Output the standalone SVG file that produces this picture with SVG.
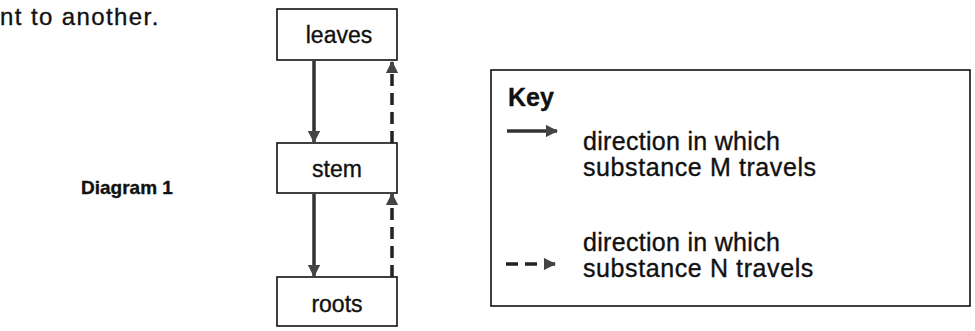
<svg xmlns="http://www.w3.org/2000/svg" width="975" height="331" viewBox="0 0 975 331">
<style>
.t{font-family:"Liberation Sans",Arial,sans-serif;font-size:23px;fill:#111;stroke:#111;stroke-width:0.35}
.k{font-size:25px}
.b{font-weight:bold}
.box{fill:#fff;stroke:#111;stroke-width:1.6}
.sol{stroke:#333;stroke-width:3.5;fill:none}
.dsh{stroke:#222;stroke-width:3.5;fill:none;stroke-dasharray:12 7}
</style>
<defs>
<marker id="ah" viewBox="0 0 10 10" refX="9" refY="5" markerWidth="3.5" markerHeight="3.5" markerUnits="strokeWidth" orient="auto">
<path d="M0,0 L10,5 L0,10 z" fill="#444"/>
</marker>
</defs>
<rect width="975" height="331" fill="#fff"/>
<text class="t" x="0" y="25" style="font-size:24px;letter-spacing:1.4px">nt to another.</text>
<text class="t b" x="81" y="194" style="font-size:19px">Diagram 1</text>
<g id="leaves"><rect class="box" x="277" y="9" width="120" height="51"/><text class="t" x="339" y="43" text-anchor="middle">leaves</text></g>
<g id="stem"><rect class="box" x="277" y="143" width="120" height="50"/><text class="t" x="337" y="177" text-anchor="middle">stem</text></g>
<g id="roots"><rect class="box" x="277" y="277" width="120" height="49"/><text class="t" x="337" y="312" text-anchor="middle">roots</text></g>
<g id="connectors">
<line class="sol" x1="314" y1="61" x2="314" y2="142" marker-end="url(#ah)"/>
<line class="sol" x1="314" y1="194" x2="314" y2="276" marker-end="url(#ah)"/>
<line class="dsh" x1="392" y1="143" x2="392" y2="62" marker-end="url(#ah)"/>
<line class="dsh" x1="392" y1="277" x2="392" y2="194" marker-end="url(#ah)"/>
</g>
<g id="key">
<rect class="box" x="491" y="70" width="479" height="236"/>
<text class="t b k" x="508" y="106">Key</text>
<line class="sol" x1="507" y1="131" x2="557" y2="131" marker-end="url(#ah)"/>
<text class="t k" x="583" y="150" style="letter-spacing:0.3px">direction in which</text>
<text class="t k" x="583" y="176" style="letter-spacing:0.6px">substance M travels</text>
<line class="dsh" x1="506" y1="264" x2="555" y2="264" stroke-dasharray="10 5" marker-end="url(#ah)"/>
<text class="t k" x="583" y="251" style="letter-spacing:0.3px">direction in which</text>
<text class="t k" x="583" y="277" style="letter-spacing:0.6px">substance N travels</text>
</g>
</svg>
